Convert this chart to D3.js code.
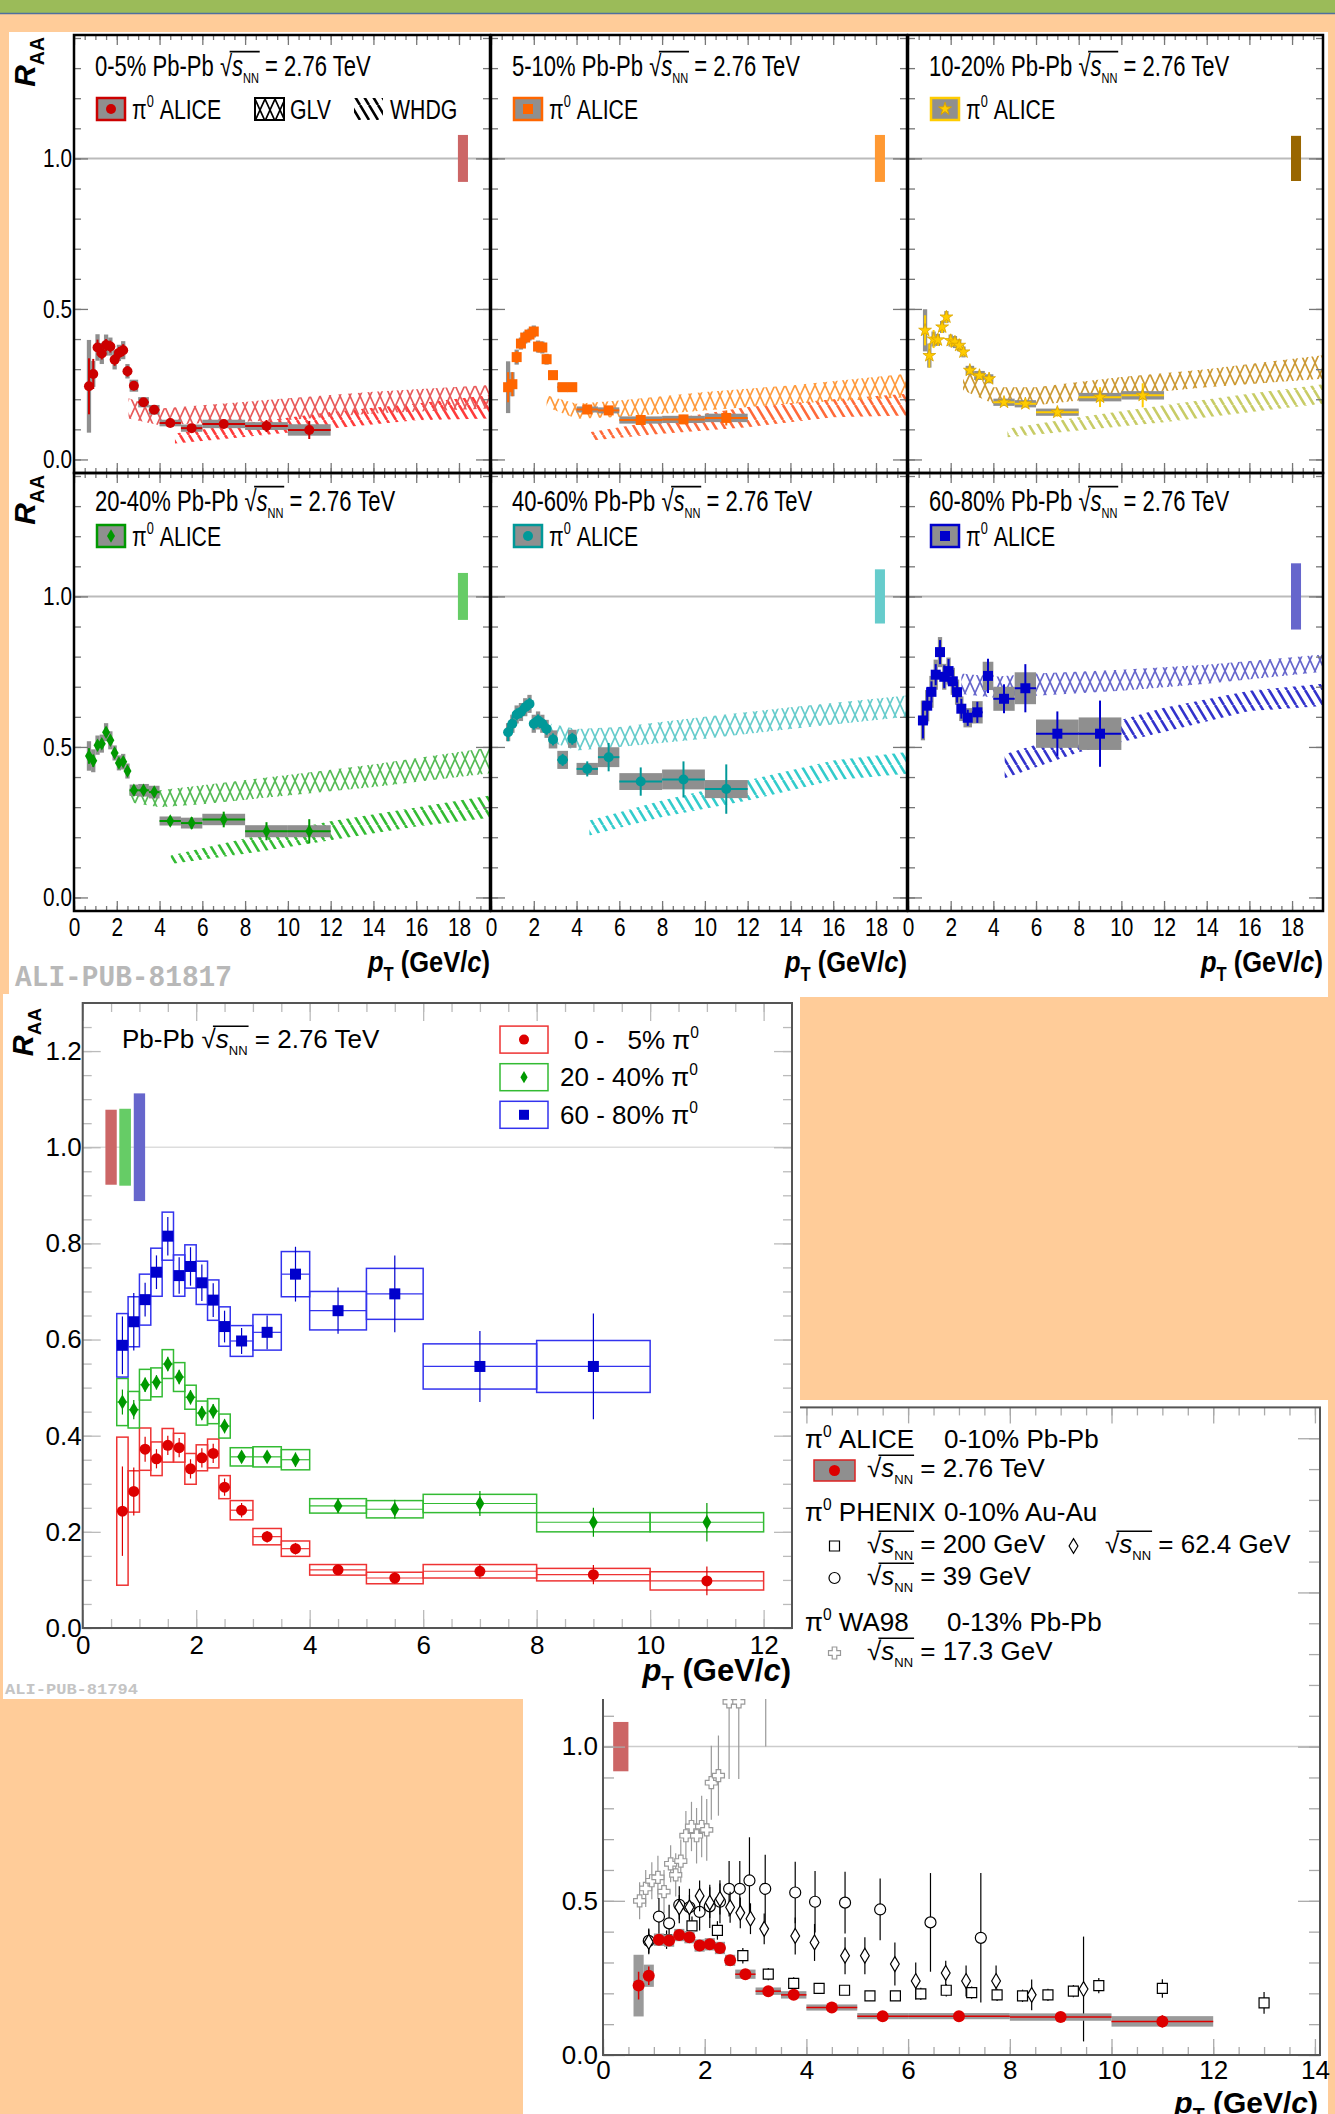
<!DOCTYPE html>
<html>
<head>
<meta charset="utf-8">
<script src="https://cdn.jsdelivr.net/npm/d3@7"></script>
<style>
body { margin: 0; background: #ffcc99; }
svg { display: block; font-family: "Liberation Sans", Arial, Helvetica, sans-serif; }
</style>
</head>
<body>
<svg id="chart" width="1335" height="2114"></svg>
<script>
// ---- pT binning ----
var ptA = [0.7,0.9,1.1,1.3,1.5,1.7,1.9,2.1,2.3,2.5,2.8,3.25,3.75,4.5,5.5,7,9,11];
var halfA = [0.1,0.1,0.1,0.1,0.1,0.1,0.1,0.1,0.1,0.1,0.2,0.25,0.25,0.5,0.5,1,1,1];
var ptB = [0.8,1.0,1.2,1.4,1.6,1.8,2.0,2.2,2.4,2.6,2.9,3.35,3.8,4.5,5.5,7,9,11];
var halfB = [0.1,0.1,0.1,0.1,0.1,0.1,0.1,0.1,0.1,0.1,0.2,0.25,0.2,0.5,0.5,1,1,1];

// ---- ALICE pi0 RAA, Pb-Pb 2.76 TeV ----
var raa_0_5  = [0.243,0.284,0.372,0.352,0.380,0.375,0.331,0.354,0.363,0.293,0.245,0.190,0.165,0.121,0.104,0.118,0.111,0.098];
var stat_0_5 = [0.093,0.05,0.026,0.02,0.02,0.02,0.02,0.02,0.02,0.018,0.015,0.012,0.012,0.01,0.012,0.015,0.02,0.03];
var sys_0_5  = [0.154,0.043,0.044,0.035,0.035,0.03,0.032,0.027,0.03,0.024,0.02,0.017,0.016,0.011,0.012,0.014,0.013,0.019];

var raa_5_10  = [0.24,0.25,0.34,0.385,0.405,0.415,0.425,0.375,0.372,0.333,0.28,0.24,0.24,0.166,0.163,0.131,0.133,0.138];
var stat_5_10 = [0.05,0.04,0.02,0.015,0.015,0.015,0.015,0.015,0.015,0.012,0.01,0.01,0.01,0.008,0.01,0.012,0.015,0.025];
var sys_5_10  = [0.086,0.04,0.025,0.02,0.02,0.02,0.02,0.02,0.02,0.018,0.015,0.015,0.015,0.01,0.01,0.012,0.012,0.014];

var raa_10_20  = [0.429,0.345,0.40,0.397,0.44,0.473,0.395,0.39,0.379,0.357,0.296,0.279,0.268,0.19,0.185,0.157,0.207,0.213];
var stat_10_20 = [0.05,0.04,0.03,0.02,0.02,0.02,0.02,0.015,0.015,0.015,0.012,0.012,0.012,0.01,0.012,0.015,0.033,0.04];
var sys_10_20  = [0.07,0.04,0.025,0.02,0.02,0.02,0.02,0.02,0.02,0.018,0.015,0.015,0.015,0.012,0.012,0.012,0.014,0.014];

var raa_20_40  = [0.470,0.454,0.506,0.511,0.549,0.522,0.480,0.447,0.451,0.420,0.356,0.356,0.350,0.254,0.247,0.259,0.220,0.220];
var stat_20_40 = [0.026,0.02,0.015,0.015,0.015,0.015,0.015,0.015,0.015,0.015,0.012,0.012,0.015,0.015,0.02,0.026,0.03,0.04];
var sys_20_40  = [0.049,0.038,0.032,0.03,0.03,0.03,0.025,0.025,0.026,0.025,0.019,0.021,0.021,0.015,0.018,0.019,0.02,0.02];

var raa_40_60  = [0.549,0.577,0.608,0.616,0.632,0.643,0.577,0.588,0.577,0.56,0.525,0.457,0.527,0.427,0.466,0.385,0.392,0.36];
var stat_40_60 = [0.03,0.025,0.02,0.02,0.02,0.02,0.02,0.02,0.02,0.02,0.02,0.02,0.02,0.025,0.047,0.047,0.06,0.082];
var sys_40_60  = [0.03,0.03,0.03,0.03,0.03,0.03,0.03,0.03,0.03,0.03,0.03,0.03,0.03,0.02,0.033,0.028,0.033,0.03];

var raa_60_80  = [0.588,0.637,0.683,0.740,0.815,0.733,0.752,0.718,0.682,0.627,0.597,0.615,0.736,0.660,0.695,0.544,0.544];
var stat_60_80 = [0.06,0.06,0.035,0.035,0.04,0.038,0.04,0.038,0.035,0.033,0.027,0.035,0.057,0.048,0.08,0.074,0.11];
var sys_60_80  = [0.066,0.052,0.053,0.05,0.05,0.043,0.045,0.045,0.042,0.041,0.032,0.037,0.047,0.04,0.053,0.047,0.054];

var raa_0_10  = [0.225,0.257,0.374,0.371,0.389,0.382,0.355,0.359,0.347,0.307,0.262,0.207,0.195,0.154,0.126,0.126,0.123,0.109];
var stat_0_10 = [0.045,0.03,0.015,0.012,0.012,0.012,0.012,0.012,0.012,0.01,0.01,0.008,0.008,0.008,0.008,0.01,0.012,0.02];
var sys_0_10  = [0.1,0.036,0.02,0.02,0.02,0.02,0.02,0.02,0.02,0.018,0.015,0.012,0.012,0.01,0.01,0.01,0.012,0.017];

// normalisation uncertainty per centrality (0-5,5-10,10-20,20-40,40-60,60-80)
var normUnc = [0.078,0.078,0.075,0.078,0.09,0.11];

// ---- GLV / WHDG bands: [pT, low, high] ----
var glv_0_5   = [[2.55,0.136,0.203],[4,0.114,0.169],[6,0.12,0.18],[10,0.131,0.203],[14,0.153,0.225],[19.45,0.169,0.247]];
var whdg_0_5  = [[4.72,0.053,0.086],[8,0.075,0.12],[12,0.103,0.158],[16,0.13,0.186],[19.45,0.136,0.214]];
var glv_5_10  = [[2.6,0.174,0.213],[4,0.135,0.185],[6,0.141,0.196],[10,0.163,0.224],[14,0.185,0.246],[19.45,0.207,0.285]];
var whdg_5_10 = [[4.67,0.063,0.091],[8,0.085,0.13],[12,0.107,0.174],[16,0.14,0.2],[19.45,0.146,0.218]];
var glv_10_20 = [[2.58,0.23,0.3],[4,0.185,0.24],[6,0.18,0.24],[8,0.196,0.257],[10,0.213,0.274],[14,0.24,0.3],[19.45,0.268,0.346]];
var whdg_10_20= [[4.66,0.074,0.102],[8,0.096,0.14],[12,0.124,0.18],[16,0.157,0.218],[19.45,0.185,0.25]];
var glv_20_40 = [[2.59,0.316,0.373],[4,0.3,0.356],[6,0.31,0.373],[10,0.339,0.407],[14,0.367,0.442],[19.45,0.413,0.498]];
var whdg_20_40= [[4.52,0.111,0.139],[8,0.145,0.196],[12,0.19,0.253],[16,0.236,0.299],[19.45,0.265,0.339]];
var glv_40_60 = [[2.8,0.516,0.577],[4,0.488,0.56],[6,0.5,0.566],[10,0.527,0.6],[14,0.56,0.632],[19.45,0.6,0.671]];
var whdg_40_60= [[4.6,0.206,0.256],[8,0.267,0.322],[12,0.322,0.389],[16,0.389,0.455],[19.45,0.411,0.483]];
var glv_60_80 = [[2.5,0.676,0.744],[4,0.664,0.733],[6,0.67,0.744],[10,0.687,0.756],[14,0.71,0.773],[19.45,0.75,0.807]];
var whdg_60_80= [[4.53,0.396,0.476],[8,0.482,0.55],[12,0.55,0.63],[16,0.619,0.687],[19.45,0.636,0.71]];

// ---- lower energies ----
var phenix200_pt  = [1.25,1.75,2.25,2.75,3.25,3.75,4.25,4.75,5.25,5.75,6.25,6.75,7.25,7.75,8.25,8.75,9.25,9.75,11,13];
var phenix200_raa = [0.374,0.419,0.404,0.322,0.262,0.232,0.216,0.21,0.192,0.192,0.198,0.21,0.202,0.195,0.192,0.195,0.207,0.225,0.216,0.169];
var phenix200_err = [0.03,0.03,0.03,0.025,0.02,0.02,0.015,0.015,0.015,0.015,0.02,0.02,0.02,0.02,0.02,0.02,0.02,0.025,0.03,0.035];
var phenix62_pt  = [0.9,1.5,1.7,1.9,2.1,2.3,2.5,2.7,2.9,3.17,3.78,4.16,4.76,5.15,5.74,6.15,6.74,7.14,7.73,8.43,9.45];
var phenix62_raa = [0.367,0.479,0.479,0.516,0.494,0.506,0.479,0.461,0.442,0.409,0.386,0.365,0.322,0.322,0.295,0.24,0.266,0.24,0.24,0.195,0.214];
var phenix62_err = [0.04,0.04,0.04,0.05,0.05,0.05,0.05,0.05,0.05,0.05,0.06,0.06,0.06,0.06,0.07,0.06,0.04,0.05,0.05,0.05,0.17];
var phenix39_pt  = [0.9,1.1,1.3,1.5,1.7,1.9,2.1,2.3,2.48,2.69,2.88,3.19,3.78,4.17,4.76,5.45,6.44,7.43];
var phenix39_raa = [0.37,0.449,0.427,0.487,0.479,0.464,0.482,0.497,0.539,0.539,0.566,0.539,0.527,0.497,0.494,0.472,0.43,0.38];
var phenix39_err = [0.04,0.06,0.06,0.06,0.06,0.06,0.07,0.07,0.09,0.09,0.14,0.11,0.1,0.1,0.1,0.1,0.16,0.21];
var wa98_pt  = [0.72,0.84,0.96,1.08,1.2,1.33,1.43,1.53,1.63,1.74,1.84,1.94,2.04,2.13,2.27,2.48,2.67,3.2];
var wa98_raa = [0.5,0.54,0.565,0.576,0.53,0.62,0.584,0.629,0.711,0.741,0.711,0.741,0.73,0.883,0.906,1.145,1.145,1.5];
var wa98_err = [0.06,0.06,0.06,0.07,0.07,0.06,0.07,0.07,0.08,0.08,0.09,0.1,0.1,0.12,0.13,0.25,0.25,0.5];

var svg = d3.select("#chart");
var SX = 0.76;   // the top picture is squeezed sideways
var defs = svg.append("defs");

svg.append("rect").attr("width", 1335).attr("height", 2114).attr("fill", "#ffcc99");
svg.append("rect").attr("width", 1335).attr("height", 13).attr("fill", "#9bbb59");
svg.append("line").attr("x1", 0).attr("x2", 1335).attr("y1", 13.5).attr("y2", 13.5)
   .attr("stroke", "#4f6f9f").attr("stroke-width", 1.5);

// ---------- helpers ----------
function rowsOf(pt, half, v, stat, sys) {
  return v.map(function(d, k) { return {pt: pt[k], half: half ? half[k] : 0, v: d, stat: stat[k], sys: sys ? sys[k] : 0}; });
}

function markerPath(type, r) {
  if (type == "diamond") return "M0," + (-r * 1.35) + "L" + (r * 0.8) + ",0L0," + (r * 1.35) + "L" + (-r * 0.8) + ",0Z";
  if (type == "cross") {
    var a = r * 0.38;
    return "M" + (-a) + "," + (-r) + "H" + a + "V" + (-a) + "H" + r + "V" + a + "H" + a + "V" + r +
           "H" + (-a) + "V" + a + "H" + (-r) + "V" + (-a) + "H" + (-a) + "Z";
  }
  if (type == "star") return d3.symbol(d3.symbolStar, 1.12 * (r * 1.35) * (r * 1.35))();
  if (type == "square") return d3.symbol(d3.symbolSquare, 4 * r * r)();
  return d3.symbol(d3.symbolCircle, Math.PI * r * r)();
}

function drawSeries(g, x, y, rows, s) {
  if (s.box) {
    g.selectAll(null).data(rows).enter().append("rect")
      .attr("x", function(d) { return x(d.pt - d.half); })
      .attr("width", function(d) { return x(d.pt + d.half) - x(d.pt - d.half); })
      .attr("y", function(d) { return y(d.v + d.sys); })
      .attr("height", function(d) { return y(d.v - d.sys) - y(d.v + d.sys); })
      .attr("fill", s.boxFill).attr("stroke", s.boxStroke || "none").attr("stroke-width", s.boxW || 0);
    g.selectAll(null).data(rows).enter().append("line")
      .attr("x1", function(d) { return x(d.pt - d.half); })
      .attr("x2", function(d) { return x(d.pt + d.half); })
      .attr("y1", function(d) { return y(d.v); }).attr("y2", function(d) { return y(d.v); })
      .attr("stroke", s.xColor).attr("stroke-width", s.lw);
  }
  g.selectAll(null).data(rows).enter().append("line")
    .attr("x1", function(d) { return x(d.pt); }).attr("x2", function(d) { return x(d.pt); })
    .attr("y1", function(d) { return y(d.v - d.stat); }).attr("y2", function(d) { return y(d.v + d.stat); })
    .attr("stroke", s.errColor).attr("stroke-width", s.lw);
  g.selectAll(null).data(rows).enter().append("path")
    .attr("transform", function(d) { return "translate(" + x(d.pt) + "," + y(d.v) + ")"; })
    .attr("d", markerPath(s.mk, s.r))
    .attr("fill", s.fill).attr("stroke", s.stroke || "none").attr("stroke-width", s.sw || 0);
}

function ticksAndFrame(g, x, y, o) {
  var xa = x.range(), ya = y.range();
  var blank = function() { return ""; };
  function put(axis, tx, ty) {
    var a = g.append("g").attr("transform", "translate(" + tx + "," + ty + ")").call(axis)
      .attr("font-family", null).attr("font-size", null);
    a.select(".domain").remove();
    a.selectAll(".tick line").attr("stroke", o.tickColor).attr("stroke-width", o.tickW || 1.3);
    a.selectAll(".tick text").attr("fill", "#000").attr("font-size", o.fs);
    return a;
  }
  var xl = put(d3.axisBottom(x).tickValues(o.xMajor).tickSize(-o.xLen).tickPadding(o.xPad)
      .tickFormat(o.xLabels ? d3.format("d") : blank), 0, ya[0]);
  put(d3.axisBottom(x).tickValues(o.xMinor).tickSize(-o.xLen / 2).tickFormat(blank), 0, ya[0]);
  put(d3.axisTop(x).tickValues(o.xMajor).tickSize(-o.xLen).tickFormat(blank), 0, ya[1]);
  put(d3.axisTop(x).tickValues(o.xMinor).tickSize(-o.xLen / 2).tickFormat(blank), 0, ya[1]);
  var yl = put(d3.axisLeft(y).tickValues(o.yMajor).tickSize(-o.yLen).tickPadding(o.yPad)
      .tickFormat(o.yLabels ? d3.format(".1f") : blank), xa[0], 0);
  put(d3.axisLeft(y).tickValues(o.yMinor).tickSize(-o.yLen / 2).tickFormat(blank), xa[0], 0);
  put(d3.axisRight(y).tickValues(o.yMajor).tickSize(-o.yLen).tickFormat(blank), xa[1], 0);
  put(d3.axisRight(y).tickValues(o.yMinor).tickSize(-o.yLen / 2).tickFormat(blank), xa[1], 0);
  if (o.sx) {
    xl.selectAll("text").style("transform-box", "fill-box").style("transform-origin", "center")
      .style("transform", "scaleX(" + o.sx + ")");
    yl.selectAll("text").style("transform-box", "fill-box").style("transform-origin", "right center")
      .style("transform", "scaleX(" + o.sx + ")");
  }
  g.append("rect").attr("x", xa[0]).attr("y", ya[1]).attr("width", xa[1] - xa[0]).attr("height", ya[0] - ya[1])
    .attr("fill", "none").attr("stroke", o.frameColor).attr("stroke-width", o.frameW);
}

function hatch(id, color, cross) {
  var p = defs.append("pattern").attr("id", id).attr("patternUnits", "userSpaceOnUse");
  if (cross) {
    p.attr("width", 10).attr("height", 22);
    p.append("path").attr("d", "M0,0L10,22M10,0L0,22").attr("stroke", color).attr("stroke-width", 1.7).attr("fill", "none");
  } else {
    p.attr("width", 9).attr("height", 15);
    p.append("path").attr("d", "M-9,0L0,15M0,0L9,15M9,0L18,15").attr("stroke", color).attr("stroke-width", 2.6).attr("fill", "none");
  }
}

// text in a group squeezed sideways by sx
function stext(g, x, y, fs, sx, anchor) {
  return g.append("g").attr("transform", "translate(" + x + "," + y + ") scale(" + sx + ",1)")
    .append("text").attr("font-size", fs).attr("text-anchor", anchor || "start");
}
function addPi0(t, rest) {
  t.append("tspan").text("π");
  t.append("tspan").attr("font-size", "0.6em").attr("dy", "-0.7em").text("0");
  t.append("tspan").attr("dy", "0.42em").text(rest);
  return t;
}
function addSnn(t, rest, fs) {
  t.append("tspan").text("√");
  t.append("tspan").attr("font-style", "italic").text("s");
  t.append("tspan").attr("font-size", "0.5em").attr("dy", "0.5em").text("NN");
  t.append("tspan").attr("dy", "-0.25em").text(" = " + rest);
  var node = t.node(), idx = node.textContent.indexOf("√");
  var e1 = node.getExtentOfChar(idx), e2 = node.getExtentOfChar(idx + 3);
  var y0 = +(t.attr("y") || 0);
  d3.select(node.parentNode).append("line")
    .attr("x1", e1.x + e1.width * 0.8).attr("x2", e2.x + e2.width + 1)
    .attr("y1", y0 - 0.84 * fs).attr("y2", y0 - 0.84 * fs)
    .attr("stroke", "#000").attr("stroke-width", fs * 0.06);
  return t;
}
function addPt(t) {
  t.attr("font-weight", "bold");
  t.append("tspan").attr("font-style", "italic").text("p");
  t.append("tspan").attr("font-size", "0.65em").attr("dy", "0.45em").text("T");
  t.append("tspan").attr("dy", "-0.29em").text(" (GeV/");
  t.append("tspan").attr("font-style", "italic").text("c");
  t.append("tspan").text(")");
}
function addRaa(g, x, y, fs) {
  var t = g.append("text").attr("transform", "translate(" + x + "," + y + ") rotate(-90)")
    .attr("text-anchor", "end").attr("font-size", fs).attr("font-weight", "bold");
  t.append("tspan").attr("font-style", "italic").text("R");
  t.append("tspan").attr("font-size", "0.65em").attr("dy", "0.45em").text("AA");
}

// ================= TOP: six centrality pads =================
var topG = svg.append("g");
topG.append("rect").attr("x", 9).attr("y", 32).attr("width", 1319).attr("height", 965).attr("fill", "#fff");

var padCols = [[74, 490], [491, 907], [908, 1323]];
var padRows = [[35, 473], [473, 911]];
var headY = [41, 38], legY = [74, 63];

var pads = [
  {cent: "0-5%",   col: 0, row: 0, pt: ptA, half: halfA, v: raa_0_5,   stat: stat_0_5,   sys: sys_0_5,   glv: glv_0_5,   whdg: whdg_0_5,
   mc: "#cc0000", mk: "circle", glvC: "#e85a5a", whdgC: "#ff3b3b", normC: "#cc6666"},
  {cent: "5-10%",  col: 1, row: 0, pt: ptB, half: halfB, v: raa_5_10,  stat: stat_5_10,  sys: sys_5_10,  glv: glv_5_10,  whdg: whdg_5_10,
   mc: "#ff6600", mk: "square", glvC: "#ff9a3c", whdgC: "#ff6a3a", normC: "#ff9933"},
  {cent: "10-20%", col: 2, row: 0, pt: ptB, half: halfB, v: raa_10_20, stat: stat_10_20, sys: sys_10_20, glv: glv_10_20, whdg: whdg_10_20,
   mc: "#ffcc00", mk: "star", glvC: "#cc9933", whdgC: "#c8cc66", normC: "#996600"},
  {cent: "20-40%", col: 0, row: 1, pt: ptA, half: halfA, v: raa_20_40, stat: stat_20_40, sys: sys_20_40, glv: glv_20_40, whdg: whdg_20_40,
   mc: "#009900", mk: "diamond", glvC: "#55bb55", whdgC: "#33bb33", normC: "#66cc66"},
  {cent: "40-60%", col: 1, row: 1, pt: ptB, half: halfB, v: raa_40_60, stat: stat_40_60, sys: sys_40_60, glv: glv_40_60, whdg: whdg_40_60,
   mc: "#009999", mk: "circle", glvC: "#66cccc", whdgC: "#33cccc", normC: "#66cccc"},
  {cent: "60-80%", col: 2, row: 1, pt: ptA, half: halfA, v: raa_60_80, stat: stat_60_80, sys: sys_60_80, glv: glv_60_80, whdg: whdg_60_80,
   mc: "#0000cc", mk: "square", glvC: "#6666cc", whdgC: "#3333cc", normC: "#6666cc"}
];

pads.forEach(function(p, i) {
  var xr = padCols[p.col], yr = padRows[p.row];
  var x = d3.scaleLinear().domain([0, 19.45]).range(xr);
  var y = d3.scaleLinear().domain([-0.045, 1.41]).range([yr[1], yr[0]]);
  var g = topG.append("g");
  defs.append("clipPath").attr("id", "pclip" + i).append("rect")
    .attr("x", xr[0]).attr("y", yr[0]).attr("width", xr[1] - xr[0]).attr("height", yr[1] - yr[0]);
  var cg = g.append("g").attr("clip-path", "url(#pclip" + i + ")");

  cg.append("line").attr("x1", xr[0]).attr("x2", xr[1]).attr("y1", y(1)).attr("y2", y(1))
    .attr("stroke", "#bbb").attr("stroke-width", 2);

  hatch("glv" + i, p.glvC, true);
  hatch("whdg" + i, p.whdgC, false);
  var area = d3.area().x(function(d) { return x(d[0]); }).y0(function(d) { return y(d[1]); }).y1(function(d) { return y(d[2]); });
  cg.append("path").datum(p.whdg).attr("d", area).attr("fill", "url(#whdg" + i + ")");
  cg.append("path").datum(p.glv).attr("d", area).attr("fill", "url(#glv" + i + ")");

  var nu = normUnc[i];
  cg.append("rect").attr("x", x(17.95)).attr("width", x(18.42) - x(17.95))
    .attr("y", y(1 + nu)).attr("height", y(1 - nu) - y(1 + nu)).attr("fill", p.normC);

  drawSeries(cg, x, y, rowsOf(p.pt, p.half, p.v, p.stat, p.sys),
    {box: true, boxFill: "#8f8f8f", xColor: p.mc, errColor: p.mc, lw: 2, mk: p.mk, r: 5,
     fill: p.mc, stroke: p.mk == "star" ? "#d9a300" : "none", sw: 0.8});

  ticksAndFrame(g, x, y, {
    xMajor: d3.range(0, 19, 2), xMinor: d3.range(0, 19.5, 0.5),
    yMajor: [0, 0.5, 1], yMinor: d3.range(0, 1.41, 0.1),
    xLen: 10, yLen: 14, xPad: 7, yPad: 2, fs: 26, sx: 0.8,
    xLabels: p.row == 1, yLabels: p.col == 0,
    tickColor: "#777", frameColor: "#000", frameW: 2.5
  });

  // header + legend
  var hx = xr[0] + 21;
  var t = stext(g, hx, yr[0] + headY[p.row], 29, SX);
  t.append("tspan").text(p.cent + " Pb-Pb ");
  addSnn(t, "2.76 TeV", 29);

  var lc = yr[0] + legY[p.row];
  var ix = xr[0] + 23;
  g.append("rect").attr("x", ix).attr("y", lc - 11).attr("width", 28).attr("height", 22)
    .attr("fill", "#8f8f8f").attr("stroke", p.mc).attr("stroke-width", 2.5);
  g.append("path").attr("transform", "translate(" + (ix + 14) + "," + lc + ")")
    .attr("d", markerPath(p.mk, 5)).attr("fill", p.mc).attr("stroke", p.mk == "star" ? "#d9a300" : "none");
  addPi0(stext(g, ix + 35, lc + 10, 28, SX), " ALICE");

  if (i == 0) {
    hatch("glvK", "#000", true);
    hatch("whdgK", "#000", false);
    g.append("rect").attr("x", 255).attr("y", lc - 11).attr("width", 29).attr("height", 22)
      .attr("fill", "url(#glvK)").attr("stroke", "#000").attr("stroke-width", 2);
    stext(g, 290, lc + 10, 28, SX).text("GLV");
    g.append("rect").attr("x", 354).attr("y", lc - 11).attr("width", 29).attr("height", 22)
      .attr("fill", "url(#whdgK)");
    stext(g, 390, lc + 10, 28, SX).text("WHDG");
  }
});

[0, 1].forEach(function(r) { addRaa(topG, 35, padRows[r][0] + 2, 30); });
padCols.forEach(function(c) { addPt(stext(topG, c[1], 972, 30, 0.85, "end")); });
topG.append("text").attr("x", 15).attr("y", 986).attr("font-family", "'Liberation Mono', 'DejaVu Sans Mono', monospace")
  .attr("font-weight", "bold").attr("font-size", 30).attr("fill", "#b8b8b8")
  .attr("textLength", 217).attr("lengthAdjust", "spacingAndGlyphs").text("ALI-PUB-81817");

// ================= BOTTOM RIGHT: energy comparison =================
var brG = svg.append("g");
brG.append("rect").attr("x", 523).attr("y", 1400).attr("width", 805).attr("height", 714).attr("fill", "#fff");
var xb = d3.scaleLinear().domain([0, 14.1]).range([603, 1320]);
var yb = d3.scaleLinear().domain([0, 2.1]).range([2055, 1407.4]);

brG.append("line").attr("x1", xb(0)).attr("x2", xb(14.1)).attr("y1", yb(1)).attr("y2", yb(1))
  .attr("stroke", "#ccc").attr("stroke-width", 1.5);
brG.append("rect").attr("x", xb(0.2)).attr("width", xb(0.5) - xb(0.2)).attr("y", yb(1.08))
  .attr("height", yb(0.92) - yb(1.08)).attr("fill", "#cc6666");

drawSeries(brG, xb, yb, rowsOf(wa98_pt, null, wa98_raa, wa98_err, null),
  {errColor: "#999", lw: 1.2, mk: "cross", r: 6, fill: "#fff", stroke: "#999", sw: 1.2});
drawSeries(brG, xb, yb, rowsOf(phenix39_pt, null, phenix39_raa, phenix39_err, null),
  {errColor: "#000", lw: 1.2, mk: "circle", r: 5.5, fill: "#fff", stroke: "#000", sw: 1.2});
drawSeries(brG, xb, yb, rowsOf(phenix62_pt, null, phenix62_raa, phenix62_err, null),
  {errColor: "#000", lw: 1.2, mk: "diamond", r: 5.5, fill: "#fff", stroke: "#000", sw: 1.2});
drawSeries(brG, xb, yb, rowsOf(phenix200_pt, null, phenix200_raa, phenix200_err, null),
  {errColor: "#000", lw: 1.2, mk: "square", r: 5, fill: "#fff", stroke: "#000", sw: 1.2});
drawSeries(brG, xb, yb, rowsOf(ptA, halfA, raa_0_10, stat_0_10, sys_0_10),
  {box: true, boxFill: "#9a9a9a", xColor: "#dd0000", errColor: "#dd0000", lw: 1.5, mk: "circle", r: 6, fill: "#dd0000"});

ticksAndFrame(brG, xb, yb, {
  xMajor: d3.range(0, 14.1, 2), xMinor: d3.range(0, 14.1, 0.5),
  yMajor: [0, 0.5, 1, 1.5, 2], yMinor: d3.range(0, 2.1, 0.1),
  xLen: 16, yLen: 22, xPad: 6, yPad: 5, fs: 26,
  xLabels: true, yLabels: true, tickColor: "#aaa", frameColor: "#555", frameW: 2
});
addPt(brG.append("text").attr("x", 1318).attr("y", 2113).attr("font-size", 30).attr("text-anchor", "end"));

// legend
addPi0(brG.append("text").attr("x", 805).attr("y", 1448).attr("font-size", 26), " ALICE");
brG.append("text").attr("x", 944).attr("y", 1448).attr("font-size", 26).text("0-10% Pb-Pb");
brG.append("rect").attr("x", 814).attr("y", 1460).attr("width", 41).attr("height", 21)
  .attr("fill", "#8f8f8f").attr("stroke", "#dd2222").attr("stroke-width", 1.5);
brG.append("path").attr("transform", "translate(834.5,1470.5)").attr("d", markerPath("circle", 5.5)).attr("fill", "#dd0000");
addSnn(brG.append("text").attr("x", 867).attr("y", 1477).attr("font-size", 26), "2.76 TeV", 26);

addPi0(brG.append("text").attr("x", 805).attr("y", 1521).attr("font-size", 26), " PHENIX");
brG.append("text").attr("x", 944).attr("y", 1521).attr("font-size", 26).text("0-10% Au-Au");
brG.append("path").attr("transform", "translate(834.5,1546)").attr("d", markerPath("square", 5))
  .attr("fill", "#fff").attr("stroke", "#000").attr("stroke-width", 1.2);
addSnn(brG.append("text").attr("x", 867).attr("y", 1553).attr("font-size", 26), "200 GeV", 26);
brG.append("path").attr("transform", "translate(1073.5,1546)").attr("d", markerPath("diamond", 5.5))
  .attr("fill", "#fff").attr("stroke", "#000").attr("stroke-width", 1.2);
addSnn(brG.append("text").attr("x", 1105).attr("y", 1553).attr("font-size", 26), "62.4 GeV", 26);
brG.append("path").attr("transform", "translate(834.5,1578)").attr("d", markerPath("circle", 5.5))
  .attr("fill", "#fff").attr("stroke", "#000").attr("stroke-width", 1.2);
addSnn(brG.append("text").attr("x", 867).attr("y", 1585).attr("font-size", 26), "39 GeV", 26);

addPi0(brG.append("text").attr("x", 805).attr("y", 1631).attr("font-size", 26), " WA98");
brG.append("text").attr("x", 947).attr("y", 1631).attr("font-size", 26).text("0-13% Pb-Pb");
brG.append("path").attr("transform", "translate(834.5,1653)").attr("d", markerPath("cross", 6))
  .attr("fill", "#fff").attr("stroke", "#999").attr("stroke-width", 1.2);
addSnn(brG.append("text").attr("x", 867).attr("y", 1660).attr("font-size", 26), "17.3 GeV", 26);

// ================= MIDDLE: three centralities =================
var midG = svg.append("g");
midG.append("rect").attr("x", 3).attr("y", 994).attr("width", 797).attr("height", 705).attr("fill", "#fff");
var xm = d3.scaleLinear().domain([0, 12.5]).range([82.7, 792]);
var ym = d3.scaleLinear().domain([0, 1.3]).range([1628, 1003]);

midG.append("line").attr("x1", xm(0)).attr("x2", xm(12.5)).attr("y1", ym(1)).attr("y2", ym(1))
  .attr("stroke", "#ddd").attr("stroke-width", 1.5);

var midSeries = [
  {v: raa_0_5,   stat: stat_0_5,   sys: sys_0_5,   box: "#ee3333", mc: "#dd0000", mk: "circle",  nx: [0.4, 0.6],    nu: 0.078, nc: "#cc6666"},
  {v: raa_20_40, stat: stat_20_40, sys: sys_20_40, box: "#33bb33", mc: "#009900", mk: "diamond", nx: [0.645, 0.85], nu: 0.08,  nc: "#66cc66"},
  {v: raa_60_80, stat: stat_60_80, sys: sys_60_80, box: "#3333ee", mc: "#0000cc", mk: "square",  nx: [0.9, 1.1],    nu: 0.112, nc: "#6666cc"}
];
var midLabels = [["0 -", "5% "], ["20 - 40% "], ["60 - 80% "]];

midSeries.forEach(function(s, k) {
  midG.append("rect").attr("x", xm(s.nx[0])).attr("width", xm(s.nx[1]) - xm(s.nx[0]))
    .attr("y", ym(1 + s.nu)).attr("height", ym(1 - s.nu) - ym(1 + s.nu)).attr("fill", s.nc);
  drawSeries(midG, xm, ym, rowsOf(ptA, halfA, s.v, s.stat, s.sys),
    {box: true, boxFill: "none", boxStroke: s.box, boxW: 1.5, xColor: s.box, errColor: s.mc, lw: 1.2,
     mk: s.mk, r: 5.5, fill: s.mc});

  var cy = 1039.6 + k * 37.6;
  midG.append("rect").attr("x", 500).attr("y", cy - 13.5).attr("width", 48).attr("height", 27)
    .attr("fill", "#fff").attr("stroke", s.box).attr("stroke-width", 1.5);
  midG.append("path").attr("transform", "translate(524," + cy + ")")
    .attr("d", markerPath(s.mk, s.mk == "diamond" ? 4.5 : 5)).attr("fill", s.mc);
  var lab = midLabels[k], t;
  if (lab.length == 2) {
    midG.append("text").attr("x", 574).attr("y", cy + 9).attr("font-size", 26).text(lab[0]);
    t = midG.append("text").attr("x", 627.5).attr("y", cy + 9).attr("font-size", 26);
    t.append("tspan").text(lab[1]);
  } else {
    t = midG.append("text").attr("x", 560).attr("y", cy + 9).attr("font-size", 26);
    t.append("tspan").text(lab[0]);
  }
  addPi0(t, "");
});

ticksAndFrame(midG, xm, ym, {
  xMajor: d3.range(0, 12.5, 2), xMinor: d3.range(0, 12.5, 0.5),
  yMajor: d3.range(0, 1.3, 0.2), yMinor: d3.range(0, 1.3, 0.05),
  xLen: 18, yLen: 18, xPad: 8, yPad: 1, fs: 26,
  xLabels: true, yLabels: true, tickColor: "#bbb", frameColor: "#555", frameW: 2
});

var mt = midG.append("text").attr("x", 122).attr("y", 1048).attr("font-size", 26);
mt.append("tspan").text("Pb-Pb ");
addSnn(mt, "2.76 TeV", 26);
addRaa(midG, 33, 1008, 29);
addPt(midG.append("text").attr("x", 791).attr("y", 1681).attr("font-size", 31).attr("text-anchor", "end"));
midG.append("text").attr("x", 5).attr("y", 1694).attr("font-family", "'Liberation Mono', 'DejaVu Sans Mono', monospace")
  .attr("font-weight", "bold").attr("font-size", 14).attr("fill", "#c4c4c4")
  .attr("textLength", 133).attr("lengthAdjust", "spacingAndGlyphs").text("ALI-PUB-81794");
</script>
</body>
</html>
